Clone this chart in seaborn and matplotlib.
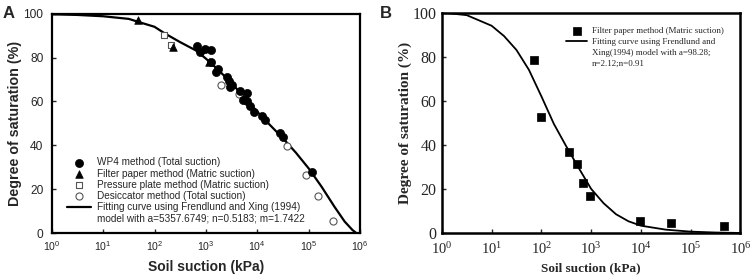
#!/usr/bin/env python3
"""
Soil-water characteristic curves: panel A (several methods) and panel B (filter paper)
"""

import pandas as pd
import matplotlib
matplotlib.use('Agg')
import matplotlib.pyplot as plt
import seaborn as sns
from matplotlib.lines import Line2D

# ---- panel A data (suction in kPa, degree of saturation in %) ----
wp4_suction = [681, 768, 960, 1240, 1240, 1742, 1573, 2540, 2851, 3266, 2944,
               4603, 6397, 5200, 6397, 7211, 8630, 12190, 14130, 27670, 32100, 114300]
wp4_sat = [85.4, 82.4, 83.9, 83.3, 77.8, 74.8, 73.2, 71.1, 69.1, 67.6, 66.4,
           64.6, 63.8, 60.8, 60.0, 58.0, 55.4, 53.2, 51.7, 45.6, 44.0, 28.1]

filter_suction = [47, 232, 1150]
filter_sat = [97.3, 84.6, 78.0]

plate_suction = [153, 209]
plate_sat = [90.1, 85.5]

desic_suction = [1941, 4345, 38370, 87500, 153800, 301300]
desic_sat = [67.5, 63.5, 39.5, 26.4, 17.0, 5.7]

fitA_suction = [1, 3.16, 10, 31.6, 49, 100, 158, 316, 631, 1000, 1778, 3162, 5623,
                10000, 17783, 31623, 56234, 100000, 177828, 316228, 501187, 707946, 851138]
fitA_sat = [99.7, 99.4, 98.8, 97.6, 96.2, 94.0, 91.0, 87.0, 83.3, 79.5, 74.2, 68.2, 62.0,
            55.3, 49.2, 43.2, 36.7, 29.5, 21.2, 12.1, 5.3, 1.5, 0.0]

# ---- panel B data ----
fpB_suction = [70, 97, 365, 520, 697, 962, 9700, 39400, 470000]
fpB_sat = [78.5, 52.5, 36.5, 31.2, 22.7, 16.6, 5.6, 4.7, 3.0]

fitB_suction = [1, 3.16, 10, 17.8, 31.6, 56.2, 100, 178, 316, 562, 1000, 1778, 3162,
                5623, 10000, 31623, 100000, 316228, 1000000]
fitB_sat = [100, 98.8, 94.0, 89.3, 83.0, 74.0, 62.0, 49.5, 39.3, 29.5, 20.0, 13.5, 8.5,
            5.3, 3.3, 1.5, 0.6, 0.2, 0.0]

sns.set_style('ticks')
plt.rcParams['font.family'] = ['Liberation Sans', 'DejaVu Sans']
plt.rcParams['axes.unicode_minus'] = False

SANS = 'Liberation Sans'
SERIF = 'Liberation Serif'

fig = plt.figure(figsize=(7.54, 2.78), dpi=100)
axA = fig.add_axes([0.0686, 0.161, 0.409, 0.790])
axB = fig.add_axes([0.586, 0.162, 0.396, 0.793])

# ================= panel A =================
sns.lineplot(x=fitA_suction, y=fitA_sat, color='black', linewidth=1.6, ax=axA,
             label='Fitting curve using Frendlund and Xing (1994)', legend=False, zorder=2)
sns.scatterplot(x=desic_suction, y=desic_sat, marker='o', s=26, color='white',
                edgecolor='#555555', linewidth=0.8, ax=axA, zorder=3,
                label='Desiccator method (Total suction)', legend=False)
sns.scatterplot(x=plate_suction, y=plate_sat, marker='s', s=24, color='white',
                edgecolor='#555555', linewidth=0.8, ax=axA, zorder=3,
                label='Pressure plate method (Matric suction)', legend=False)
sns.scatterplot(x=filter_suction, y=filter_sat, marker='^', s=30, color='black',
                edgecolor='black', linewidth=0.5, ax=axA, zorder=3,
                label='Filter paper method (Matric suction)', legend=False)
sns.scatterplot(x=wp4_suction, y=wp4_sat, marker='o', s=34, color='black',
                edgecolor='black', linewidth=0.5, ax=axA, zorder=4,
                label='WP4 method (Total suction)', legend=False)

axA.set_xscale('log')
axA.set_xlim(1, 1e6)
axA.set_ylim(0, 100)
axA.set_yticks([0, 20, 40, 60, 80, 100])
axA.minorticks_off()
axA.tick_params(axis='x', direction='in', length=3, width=1, labelsize=7.6, pad=4,
                labelfontfamily=SANS)
axA.tick_params(axis='y', direction='in', length=3, width=1, labelsize=8.6, pad=6,
                labelfontfamily=SANS)
for sp in axA.spines.values():
    sp.set_visible(True)
    sp.set_linewidth(1.6)
    sp.set_color('black')
axA.set_xlabel('Soil suction (kPa)', fontsize=10, fontweight='bold', family=SANS, labelpad=5)
axA.set_ylabel('Degree of saturation (%)', fontsize=10.3, fontweight='bold', family=SANS,
               labelpad=1)

h, l = axA.get_legend_handles_labels()
order = ['WP4 method (Total suction)', 'Filter paper method (Matric suction)',
         'Pressure plate method (Matric suction)', 'Desiccator method (Total suction)',
         'Fitting curve using Frendlund and Xing (1994)']
hd = dict(zip(l, h))
handlesA = [hd[k] for k in order] + [Line2D([], [], linestyle='none', marker='none')]
labelsA = order + ['model with a=5357.6749; n=0.5183; m=1.7422']
axA.legend(handlesA, labelsA, loc='lower left', bbox_to_anchor=(0.05, 0.045),
           frameon=False, handlelength=2.4, handletextpad=0.6,
           labelspacing=0.12, borderpad=0, borderaxespad=0,
           prop={'family': SANS, 'size': 7.2})

# ================= panel B =================
sns.lineplot(x=fitB_suction, y=fitB_sat, color='black', linewidth=1.3, ax=axB,
             label='Fitting curve using Frendlund and', legend=False, zorder=2)
sns.scatterplot(x=fpB_suction, y=fpB_sat, marker='s', s=32, color='black',
                edgecolor='black', linewidth=0.5, ax=axB, zorder=3,
                label='Filter paper method (Matric suction)', legend=False)

axB.set_xscale('log')
axB.set_xlim(1, 1e6)
axB.set_ylim(0, 100)
axB.set_yticks([0, 20, 40, 60, 80, 100])
axB.minorticks_off()
axB.tick_params(axis='x', direction='in', length=3, width=1, labelsize=10.5, pad=5.5,
                labelfontfamily=SERIF)
axB.tick_params(axis='y', direction='in', length=3, width=1, labelsize=11.5, pad=4,
                labelfontfamily=SERIF)
for sp in axB.spines.values():
    sp.set_visible(True)
    sp.set_linewidth(1.8)
    sp.set_color('black')
axB.set_xlabel('Soil suction (kPa)', fontsize=9.5, fontweight='bold', family=SERIF, labelpad=4)
axB.set_ylabel('Degree of saturation (%)', fontsize=11, fontweight='bold', family=SERIF,
               labelpad=0.5)

h, l = axB.get_legend_handles_labels()
hd = dict(zip(l, h))
blank = Line2D([], [], linestyle='none', marker='none')
handlesB = [hd['Filter paper method (Matric suction)'], hd['Fitting curve using Frendlund and'],
            blank, blank]
labelsB = ['Filter paper method (Matric suction)', 'Fitting curve using Frendlund and',
           'Xing(1994) model with a=98.28;', 'n=2.12;n=0.91']
axB.legend(handlesB, labelsB, loc='upper left', bbox_to_anchor=(0.415, 0.935),
           frameon=False, handlelength=2.4, handletextpad=0.5,
           labelspacing=0.3, borderpad=0, borderaxespad=0,
           prop={'family': SERIF, 'size': 6.5})

# panel letters
fig.text(0.004, 0.935, 'A', fontsize=12, fontweight='bold', family=SANS, va='baseline')
fig.text(0.504, 0.935, 'B', fontsize=12, fontweight='bold', family=SANS, va='baseline')

fig.savefig('out.png', dpi=100, facecolor='white')
